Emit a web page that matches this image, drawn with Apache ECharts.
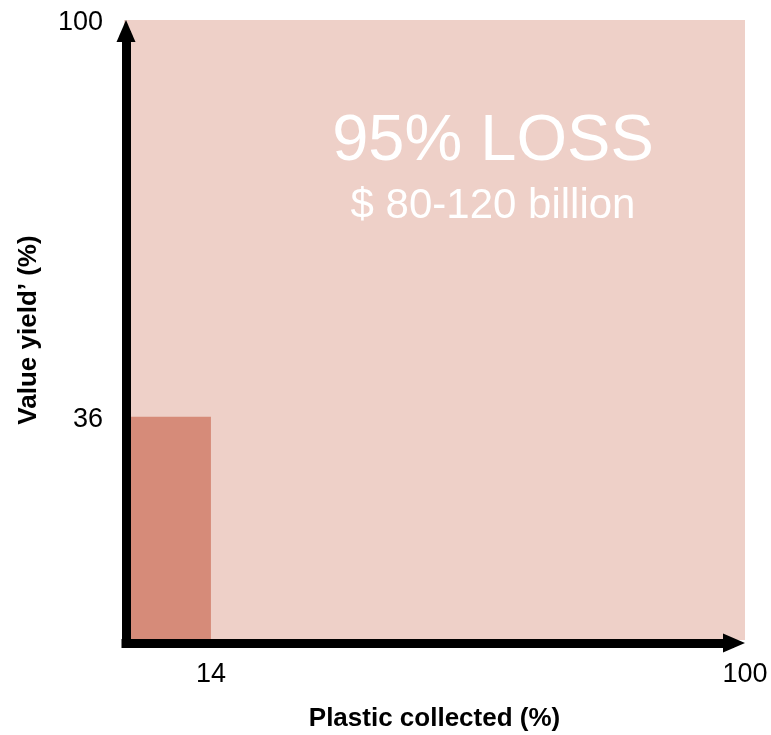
<!DOCTYPE html>
<html>
<head>
<meta charset="utf-8">
<title>Plastic collected vs value yield</title>
<script src="https://cdn.jsdelivr.net/npm/echarts@6/dist/echarts.min.js"></script>
<style>
  html, body { margin: 0; padding: 0; background: #ffffff; }
  #chart { width: 771px; height: 735px; }
</style>
</head>
<body>
<div id="chart"></div>
<script>
// Share of plastic collected (x) and value yield kept (y), in percent
const regions = ['Total potential', 'Captured today'];
const plasticCollected = [100, 14];
const valueYield = [100, 36];
const regionColors = ['#EED0C8', '#D68B79'];

// Axis labels shown
const xTickValues = [14, 100];
const yTickValues = [36, 100];

// Headline texts
const headline = '95% LOSS';
const subline = '$ 80-120 billion';

const FONT = '"Liberation Sans", Arial, Helvetica, sans-serif';

const chart = echarts.init(document.getElementById('chart'), null, { renderer: 'canvas' });

function rectSeries(i) {
  return {
    type: 'custom',
    name: regions[i],
    xAxisIndex: 0,
    yAxisIndex: 0,
    z: 2,
    data: [[plasticCollected[i], valueYield[i]]],
    renderItem: function (params, api) {
      const origin = api.coord([0, 0]);
      const corner = api.coord([api.value(0), api.value(1)]);
      return {
        type: 'rect',
        shape: {
          x: origin[0],
          y: corner[1],
          width: corner[0] - origin[0],
          height: origin[1] - corner[1]
        },
        style: { fill: regionColors[i] }
      };
    }
  };
}

const arrowLine = {
  show: true,
  symbol: ['none', 'triangle'],
  symbolSize: [19, 22],
  lineStyle: { color: '#000000', width: 9, cap: 'butt' }
};

chart.setOption({
  animation: false,
  backgroundColor: '#ffffff',
  textStyle: { fontFamily: FONT },
  grid: [
    // plotting area
    { left: 124, right: 26, top: 20, bottom: 95, containLabel: false, outerBoundsMode: 'none' },
    // frame carrying the arrowed axis lines
    { left: 121.5, right: 37, top: 31, bottom: 87.5, containLabel: false, outerBoundsMode: 'none' }
  ],
  xAxis: [
    {
      gridIndex: 0,
      type: 'value',
      min: 0,
      max: 100,
      axisLine: { show: false },
      axisTick: { show: false },
      splitLine: { show: false },
      axisLabel: {
        customValues: xTickValues,
        margin: 21,
        fontSize: 27,
        color: '#000000',
        fontFamily: FONT
      },
      name: 'Plastic collected (%)',
      nameLocation: 'middle',
      nameGap: 66,
      nameTextStyle: { fontSize: 26, fontWeight: 'bold', color: '#000000', fontFamily: FONT }
    },
    {
      gridIndex: 1,
      type: 'value',
      min: 0,
      max: 100,
      z: 5,
      offset: -4.5,
      axisLine: arrowLine,
      axisTick: { show: false },
      axisLabel: { show: false },
      splitLine: { show: false }
    }
  ],
  yAxis: [
    {
      gridIndex: 0,
      type: 'value',
      min: 0,
      max: 100,
      axisLine: { show: false },
      axisTick: { show: false },
      splitLine: { show: false },
      axisLabel: {
        customValues: yTickValues,
        margin: 21,
        fontSize: 27,
        color: '#000000',
        fontFamily: FONT,
        verticalAlign: 'top',
        lineHeight: 6
      },
      name: 'Value yield\u2019 (%)',
      nameLocation: 'middle',
      nameGap: 82,
      nameTextStyle: { fontSize: 26, fontWeight: 'bold', color: '#000000', fontFamily: FONT }
    },
    {
      gridIndex: 1,
      type: 'value',
      min: 0,
      max: 100,
      z: 5,
      offset: -4.5,
      axisLine: arrowLine,
      axisTick: { show: false },
      axisLabel: { show: false },
      splitLine: { show: false }
    }
  ],
  graphic: [
    {
      type: 'text',
      x: 493,
      y: 142,
      z: 10,
      style: {
        text: headline,
        fill: '#ffffff',
        font: '65px ' + FONT,
        textAlign: 'center',
        textVerticalAlign: 'middle'
      }
    },
    {
      type: 'text',
      x: 493,
      y: 206,
      z: 10,
      style: {
        text: subline,
        fill: '#ffffff',
        font: '42px ' + FONT,
        textAlign: 'center',
        textVerticalAlign: 'middle'
      }
    }
  ],
  series: [rectSeries(0), rectSeries(1)]
});
</script>
</body>
</html>
